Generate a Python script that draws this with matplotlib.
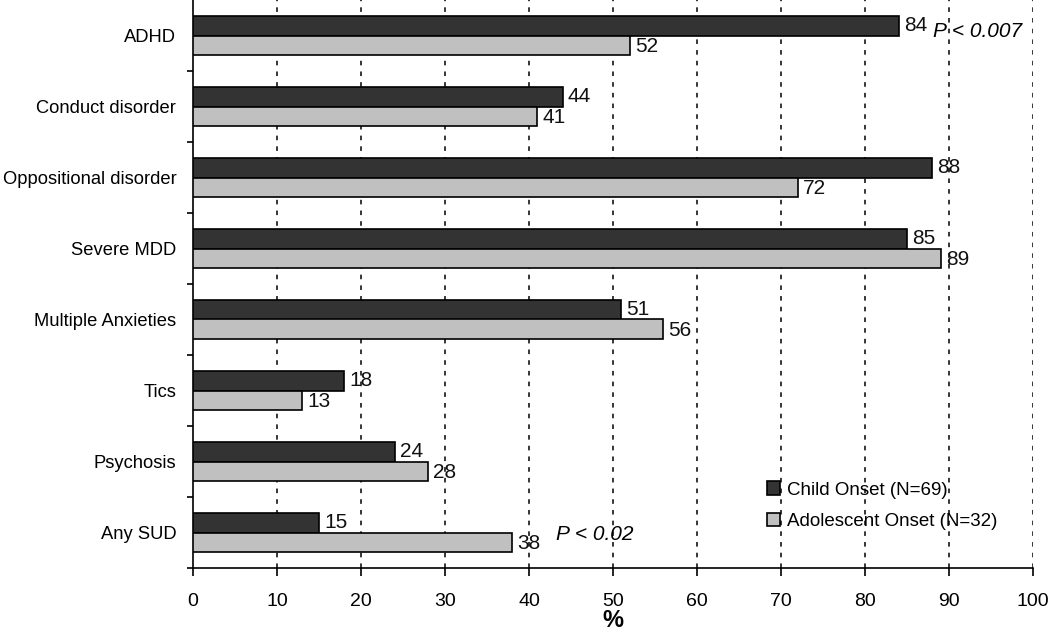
import matplotlib
matplotlib.use("Agg")
import matplotlib.pyplot as plt
import numpy as np

categories = ["ADHD", "Conduct disorder", "Oppositional disorder", "Severe MDD",
              "Multiple Anxieties", "Tics", "Psychosis", "Any SUD"]
child = [84, 44, 88, 85, 51, 18, 24, 15]
adolescent = [52, 41, 72, 89, 56, 13, 28, 38]
series_names = ["Child Onset (N=69)", "Adolescent Onset (N=32)"]
xticks = [0, 10, 20, 30, 40, 50, 60, 70, 80, 90, 100]

plt.rcParams['font.family'] = ['Liberation Sans', 'DejaVu Sans']

fig = plt.figure(figsize=(10.5, 6.31), dpi=100)
ax = fig.add_axes([193/1050, 63/631, 840/1050, 568/631])

y = np.arange(len(categories))
h = 0.28
dark = "#333333"
light = "#c0c0c0"
ax.barh(y - h/2, child, height=h, color=dark, edgecolor="black", linewidth=1.2,
        label=series_names[0], zorder=3)
ax.barh(y + h/2, adolescent, height=h, color=light, edgecolor="black", linewidth=1.2,
        label=series_names[1], zorder=3)

for i in range(len(categories)):
    ax.text(child[i] + 0.6, y[i] - h/2, str(child[i]), va="center", ha="left",
            fontsize=15, color="#111111", zorder=4)
    ax.text(adolescent[i] + 0.6, y[i] + h/2 + 0.02, str(adolescent[i]), va="center", ha="left",
            fontsize=15, color="#111111", zorder=4)

ax.text(88.1, -0.06, "P < 0.007", style="italic", fontsize=15, va="center", ha="left", zorder=4)
ax.text(43.2, 7.03, "P < 0.02", style="italic", fontsize=15, va="center", ha="left", zorder=4)

ax.set_xlim(0, 100)
ax.set_ylim(len(categories) - 0.5, -0.5)
ax.set_xticks(xticks)
ax.set_xticklabels([str(t) for t in xticks], fontsize=14)
ax.set_yticks(y)
ax.set_yticklabels(categories, fontsize=13.2)
ax.tick_params(axis="y", which="major", length=0, pad=12)
ax.set_yticks(np.arange(len(categories)) + 0.5, minor=True)
ax.tick_params(axis="y", which="minor", length=4, width=1.2, direction="out")
ax.tick_params(axis="x", length=6, width=1.2, direction="out", pad=12)

for t in xticks[1:]:
    ax.axvline(t, color="black", linestyle=(0, (3, 4)), linewidth=1.1, zorder=1)

for s in ["top", "right"]:
    ax.spines[s].set_visible(False)
ax.spines["left"].set_linewidth(1.2)
ax.spines["bottom"].set_linewidth(1.2)

ax.set_xlabel("%", fontsize=17, fontweight="bold", labelpad=-1)

leg = ax.legend(loc="upper left", bbox_to_anchor=(0.663, 0.182), frameon=False, fontsize=13.5,
                handlelength=0.7, handleheight=0.7, handletextpad=0.4, labelspacing=0.75)

fig.savefig("out.png", dpi=100)
